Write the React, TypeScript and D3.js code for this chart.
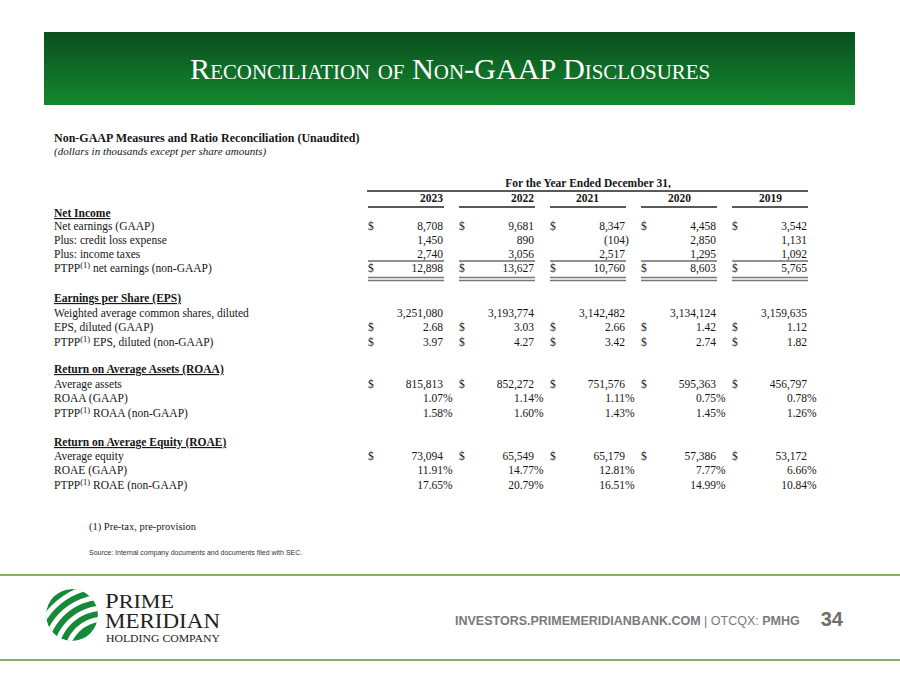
import React from "react";
import * as d3 from "d3";

// ---------- DATA ----------
const years = ["2023", "2022", "2021", "2020", "2019"];
const netEarnings = [8708, 9681, 8347, 4458, 3542];
const creditLossExpense = [1450, 890, -104, 2850, 1131];
const incomeTaxes = [2740, 3056, 2517, 1295, 1092];
const ptppNetEarnings = [12898, 13627, 10760, 8603, 5765];
const weightedShares = [3251080, 3193774, 3142482, 3134124, 3159635];
const epsGaap = [2.68, 3.03, 2.66, 1.42, 1.12];
const epsPtpp = [3.97, 4.27, 3.42, 2.74, 1.82];
const averageAssets = [815813, 852272, 751576, 595363, 456797];
const roaaGaap = [1.07, 1.14, 1.11, 0.75, 0.78];
const roaaPtpp = [1.58, 1.6, 1.43, 1.45, 1.26];
const averageEquity = [73094, 65549, 65179, 57386, 53172];
const roaeGaap = [11.91, 14.77, 12.81, 7.77, 6.66];
const roaePtpp = [17.65, 20.79, 16.51, 14.99, 10.84];

type Kind = "usd" | "shares" | "eps" | "pct";
interface Row {
  label: string;
  ptpp?: boolean;
  values: number[];
  kind: Kind;
  dollar: boolean;
  y: number;
  singleRule?: boolean;
  doubleRule?: boolean;
}

const sections: { title: string; y: number; rows: Row[] }[] = [
  {
    title: "Net Income",
    y: 217,
    rows: [
      { label: "Net earnings (GAAP)", values: netEarnings, kind: "usd", dollar: true, y: 230 },
      { label: "Plus: credit loss expense", values: creditLossExpense, kind: "usd", dollar: false, y: 244 },
      { label: "Plus: income taxes", values: incomeTaxes, kind: "usd", dollar: false, y: 258, singleRule: true },
      { label: " net earnings (non-GAAP)", ptpp: true, values: ptppNetEarnings, kind: "usd", dollar: true, y: 272, doubleRule: true },
    ],
  },
  {
    title: "Earnings per Share (EPS)",
    y: 302,
    rows: [
      { label: "Weighted average common shares, diluted", values: weightedShares, kind: "shares", dollar: false, y: 317 },
      { label: "EPS, diluted (GAAP)", values: epsGaap, kind: "eps", dollar: true, y: 331 },
      { label: " EPS, diluted (non-GAAP)", ptpp: true, values: epsPtpp, kind: "eps", dollar: true, y: 346 },
    ],
  },
  {
    title: "Return on Average Assets (ROAA)",
    y: 373,
    rows: [
      { label: "Average assets", values: averageAssets, kind: "usd", dollar: true, y: 388 },
      { label: "ROAA (GAAP)", values: roaaGaap, kind: "pct", dollar: false, y: 402 },
      { label: " ROAA (non-GAAP)", ptpp: true, values: roaaPtpp, kind: "pct", dollar: false, y: 417 },
    ],
  },
  {
    title: "Return on Average Equity (ROAE)",
    y: 446,
    rows: [
      { label: "Average equity", values: averageEquity, kind: "usd", dollar: true, y: 460 },
      { label: "ROAE (GAAP)", values: roaeGaap, kind: "pct", dollar: false, y: 474 },
      { label: " ROAE (non-GAAP)", ptpp: true, values: roaePtpp, kind: "pct", dollar: false, y: 489 },
    ],
  },
];

// year label offsets (layout only)
const yearLabelShift = [0, 0, -26, -25, -25];

const SERIF = "'Liberation Serif', 'Times New Roman', serif";
const SANS = "'Liberation Sans', Arial, sans-serif";

const fmtInt = d3.format(",");
const fmtDec = d3.format(".2f");

function formatValue(v: number, kind: Kind): { main: string; suffix: string; prefix: string } {
  if (kind === "usd" || kind === "shares") {
    if (v < 0) return { prefix: "(", main: fmtInt(-v), suffix: ")" };
    return { prefix: "", main: fmtInt(v), suffix: "" };
  }
  if (kind === "eps") return { prefix: "", main: fmtDec(v), suffix: "" };
  return { prefix: "", main: fmtDec(v), suffix: "%" };
}

export default function App() {
  const xRight = d3.scalePoint<string>().domain(years).range([443, 807]);
  const colWidth = 76;
  const labelX = 54;
  const fs = 11.5;
  const ink = "#161616";

  // logo gaps: arcs centered at a lower-right point
  const gapRadii = [38, 49, 60, 71];
  const arcGen = d3.arc<any>();

  return (
    <svg
      width={900}
      height={675}
      style={{ position: "absolute", left: 0, top: 0, display: "block", background: "#fff" }}
    >
      <defs>
        <linearGradient id="banner" x1="0" y1="0" x2="0" y2="1">
          <stop offset="0%" stopColor="#0a4f1e" />
          <stop offset="100%" stopColor="#14882f" />
        </linearGradient>
        <clipPath id="logoClip">
          <circle cx={0} cy={0} r={26} />
        </clipPath>
      </defs>

      {/* Banner */}
      <rect x={44} y={32} width={811} height={73} fill="url(#banner)" />
      <text
        x={190}
        y={79}
        fill="#ffffff"
        fontFamily={SERIF}
        fontSize={29}
        textLength={520}
        lengthAdjust="spacingAndGlyphs"
        style={{ fontVariant: "small-caps" }}
      >
        Reconciliation of Non-GAAP Disclosures
      </text>

      {/* Table heading */}
      <text x={labelX} y={142} fontFamily={SERIF} fontSize={12} fontWeight="bold" fill={ink}>
        Non-GAAP Measures and Ratio Reconciliation (Unaudited)
      </text>
      <text x={labelX} y={155} fontFamily={SERIF} fontSize={11} fontStyle="italic" fill={ink}>
        (dollars in thousands except per share amounts)
      </text>

      <text x={588} y={187} textAnchor="middle" fontFamily={SERIF} fontSize={fs} fontWeight="bold" fill={ink}>
        For the Year Ended December 31,
      </text>
      <line x1={367} x2={808} y1={191} y2={191} stroke="#222" strokeWidth={1.3} />
      {years.map((yr, i) => (
        <g key={yr}>
          <text
            x={(xRight(yr) as number) + yearLabelShift[i]}
            y={202}
            textAnchor="end"
            fontFamily={SERIF}
            fontSize={fs}
            fontWeight="bold"
            fill={ink}
          >
            {yr}
          </text>
          <line
            x1={(xRight(yr) as number) - colWidth + 1}
            x2={(xRight(yr) as number) + 1}
            y1={207}
            y2={207}
            stroke="#222"
            strokeWidth={1.3}
          />
        </g>
      ))}

      {sections.map((sec) => (
        <g key={sec.title}>
          <text
            x={labelX}
            y={sec.y}
            fontFamily={SERIF}
            fontSize={fs}
            fontWeight="bold"
            fill={ink}
            style={{ textDecoration: "underline" }}
          >
            {sec.title}
          </text>
          {sec.rows.map((row) => (
            <g key={row.label}>
              <text x={labelX} y={row.y} fontFamily={SERIF} fontSize={fs} fill={ink}>
                {row.ptpp ? (
                  <>
                    <tspan>PTPP</tspan>
                    <tspan fontSize={8.5} dy={-4}>
                      (1)
                    </tspan>
                    <tspan dy={4}>{row.label}</tspan>
                  </>
                ) : (
                  row.label
                )}
              </text>
              {row.values.map((v, i) => {
                const xr = xRight(years[i]) as number;
                const f = formatValue(v, row.kind);
                return (
                  <g key={i}>
                    {row.dollar && (
                      <text x={xr - 75} y={row.y} fontFamily={SERIF} fontSize={fs} fill={ink}>
                        $
                      </text>
                    )}
                    <text x={xr} y={row.y} textAnchor="end" fontFamily={SERIF} fontSize={fs} fill={ink}>
                      {f.prefix + f.main}
                    </text>
                    {f.suffix && (
                      <text x={xr} y={row.y} fontFamily={SERIF} fontSize={fs} fill={ink}>
                        {f.suffix}
                      </text>
                    )}
                    {row.singleRule && (
                      <line x1={xr - colWidth + 1} x2={xr + 1} y1={261} y2={261} stroke="#222" strokeWidth={1} />
                    )}
                    {row.doubleRule && (
                      <>
                        <line x1={xr - colWidth + 1} x2={xr + 1} y1={277.5} y2={277.5} stroke="#777" strokeWidth={1.5} />
                        <line x1={xr - colWidth + 1} x2={xr + 1} y1={280.5} y2={280.5} stroke="#777" strokeWidth={1.5} />
                      </>
                    )}
                  </g>
                );
              })}
            </g>
          ))}
        </g>
      ))}

      {/* Footnotes */}
      <text x={89} y={530} fontFamily={SERIF} fontSize={10.5} fill={ink}>
        (1) Pre-tax, pre-provision
      </text>
      <text x={89} y={555} fontFamily={SANS} fontSize={7} fill="#333">
        Source: Internal company documents and documents filed with SEC.
      </text>

      {/* Footer rules */}
      <line x1={0} x2={900} y1={575} y2={575} stroke="#86ad62" strokeWidth={2} />
      <line x1={0} x2={900} y1={660} y2={660} stroke="#86ad62" strokeWidth={2} />

      {/* Logo */}
      <g transform="translate(72,615)">
        <g clipPath="url(#logoClip)">
          <circle cx={0} cy={0} r={26} fill="#178a3a" />
          <g transform="translate(32,42)">
            {gapRadii.map((r) => (
              <path
                key={r}
                d={arcGen({ innerRadius: r - 2.5, outerRadius: r + 2.5, startAngle: -Math.PI, endAngle: 0 }) as string}
                fill="#fff"
              />
            ))}
          </g>
        </g>
      </g>
      <text x={105} y={608} fontFamily={SERIF} fontSize={20} fill="#222" textLength={69} lengthAdjust="spacingAndGlyphs">
        <tspan>P</tspan>
        <tspan fontSize={18}>RIME</tspan>
      </text>
      <text x={105} y={628} fontFamily={SERIF} fontSize={20} fill="#222" textLength={115} lengthAdjust="spacingAndGlyphs">
        MERIDIAN
      </text>
      <text x={106} y={642} fontFamily={SERIF} fontSize={10} fill="#222" textLength={114} lengthAdjust="spacingAndGlyphs">
        HOLDING COMPANY
      </text>

      {/* Footer text */}
      <text x={455} y={625} fontFamily={SANS} fontSize={12.5} fill="#7a7a7a">
        <tspan fontWeight="bold">INVESTORS.PRIMEMERIDIANBANK.COM</tspan>
        <tspan> | OTCQX: </tspan>
        <tspan fontWeight="bold">PMHG</tspan>
      </text>
      <text x={843} y={626} textAnchor="end" fontFamily={SANS} fontSize={20} fontWeight="bold" fill="#6e6e6e">
        34
      </text>
    </svg>
  );
}
